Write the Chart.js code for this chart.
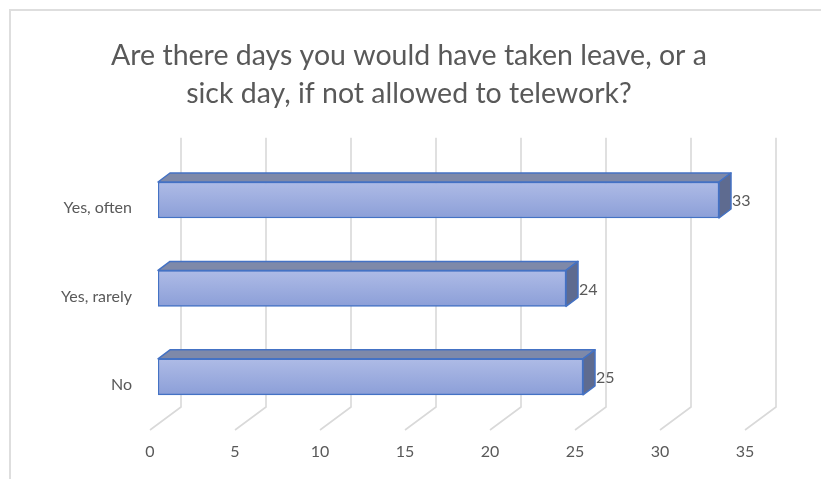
<!DOCTYPE html>
<html>
<head>
<meta charset="utf-8">
<script src="https://cdn.jsdelivr.net/npm/chart.js@4"></script>
<style>
  html, body { margin: 0; padding: 0; background: #ffffff; }
  #wrap { position: relative; width: 821px; height: 479px; overflow: hidden; }
  #frame {
    position: absolute; left: 9px; top: 9px; width: 830px; height: 490px;
    border-left: 2px solid #dedede; border-top: 2px solid #dedede; box-sizing: border-box;
  }
  canvas { position: absolute; left: 0; top: 0; }
</style>
</head>
<body>
<div id="wrap">
  <div id="frame"></div>
  <canvas id="chart" width="821" height="479"></canvas>
</div>
<script>
// Survey answers and counts
const categories = ['Yes, often', 'Yes, rarely', 'No'];
const responses = [33, 24, 25];
const titleLines = ['Are there days you would have taken leave, or a', 'sick day, if not allowed to telework?'];
const axisMin = 0;
const axisMax = 35;
const axisStep = 5;

const TEXT = '#595959';
const FONT = 'Lato, "Open Sans", sans-serif';
const DEPTH = { dx: 12, dy: 9 };        // bar depth projection
const WALL = { dx: 23, top: 18, bottom: 14 }; // back wall offsets from bar plane
const FLOOR = { dx: -8, dy: 9 };        // front floor edge offsets

// Center the title across the whole canvas rather than the padded box
const titleSpan = {
  id: 'titleSpan',
  afterLayout(chart) {
    if (chart.titleBlock) {
      chart.titleBlock.left = 0;
      chart.titleBlock.right = chart.width - 3;
    }
  }
};

// Back-wall gridlines with their perspective floor segments
const wallGrid = {
  id: 'wallGrid',
  beforeDatasetsDraw(chart) {
    const { ctx, chartArea: a } = chart;
    const xs = chart.scales.x;
    ctx.save();
    ctx.strokeStyle = '#d9d9d9';
    ctx.lineWidth = 1.6;
    ctx.lineJoin = 'miter';
    xs.ticks.forEach(t => {
      const px = xs.getPixelForValue(t.value);
      ctx.beginPath();
      ctx.moveTo(px + WALL.dx, a.top - WALL.top);
      ctx.lineTo(px + WALL.dx, a.bottom - WALL.bottom);
      ctx.lineTo(px + FLOOR.dx, a.bottom + FLOOR.dy);
      ctx.stroke();
    });
    ctx.restore();
  }
};

// Top and side faces of each bar, plus the value label
const barFaces = {
  id: 'barFaces',
  afterDatasetsDraw(chart) {
    const { ctx } = chart;
    const meta = chart.getDatasetMeta(0);
    ctx.save();
    meta.data.forEach((bar, i) => {
      const { x, y, base, height } = bar.getProps(['x', 'y', 'base', 'height'], true);
      const top = y - height / 2;
      const bottom = y + height / 2;
      const left = base;
      const right = x;
      ctx.lineWidth = 1.5;
      ctx.strokeStyle = '#4472c4';
      ctx.lineJoin = 'round';
      // top face
      ctx.beginPath();
      ctx.moveTo(left, top);
      ctx.lineTo(left + DEPTH.dx, top - DEPTH.dy);
      ctx.lineTo(right + DEPTH.dx, top - DEPTH.dy);
      ctx.lineTo(right, top);
      ctx.closePath();
      ctx.fillStyle = '#7e89a9';
      ctx.fill();
      ctx.stroke();
      // side face
      ctx.beginPath();
      ctx.moveTo(right, top);
      ctx.lineTo(right + DEPTH.dx, top - DEPTH.dy);
      ctx.lineTo(right + DEPTH.dx, bottom - DEPTH.dy);
      ctx.lineTo(right, bottom);
      ctx.closePath();
      ctx.fillStyle = '#5e6b90';
      ctx.fill();
      ctx.stroke();
      // value label
      ctx.fillStyle = TEXT;
      ctx.font = '16px ' + FONT;
      ctx.textAlign = 'left';
      ctx.textBaseline = 'middle';
      ctx.fillText(String(responses[i]), right + DEPTH.dx + 1, y + 1);
    });
    ctx.restore();
  }
};

function frontFill(context) {
  const chart = context.chart;
  const ys = chart.scales && chart.scales.y;
  if (!chart.chartArea || !ys) return '#9caee0';
  const cy = ys.getPixelForValue(context.dataIndex);
  const g = chart.ctx.createLinearGradient(0, cy - 18, 0, cy + 18);
  g.addColorStop(0, '#aebbe6');
  g.addColorStop(1, '#8c9fd8');
  return g;
}

new Chart(document.getElementById('chart'), {
  type: 'bar',
  data: {
    labels: categories,
    datasets: [{
      data: responses,
      backgroundColor: frontFill,
      borderColor: '#4472c4',
      borderWidth: 1.5,
      borderSkipped: false,
      barThickness: 36
    }]
  },
  options: {
    indexAxis: 'y',
    responsive: false,
    animation: false,
    devicePixelRatio: 1,
    layout: { padding: { left: 0, right: 68, top: 0, bottom: 0 } },
    plugins: {
      legend: { display: false },
      tooltip: { enabled: false },
      title: {
        display: true,
        text: titleLines,
        color: TEXT,
        font: { family: FONT, size: 28.5, weight: 'normal', lineHeight: 1.33 },
        padding: { top: 37, bottom: 43 }
      }
    },
    scales: {
      x: {
        min: axisMin,
        max: axisMax,
        grid: { display: false },
        border: { display: false },
        ticks: {
          stepSize: axisStep,
          color: TEXT,
          font: { family: FONT, size: 16 },
          padding: 13,
          labelOffset: -8
        },
        afterFit(scale) { scale.height = 58; }
      },
      y: {
        grid: { display: false },
        border: { display: false },
        ticks: {
          color: TEXT,
          font: { family: FONT, size: 16 },
          padding: 18,
          labelOffset: 8
        },
        afterFit(scale) { scale.width = 158; }
      }
    }
  },
  plugins: [titleSpan, wallGrid, barFaces]
});
</script>
</body>
</html>
